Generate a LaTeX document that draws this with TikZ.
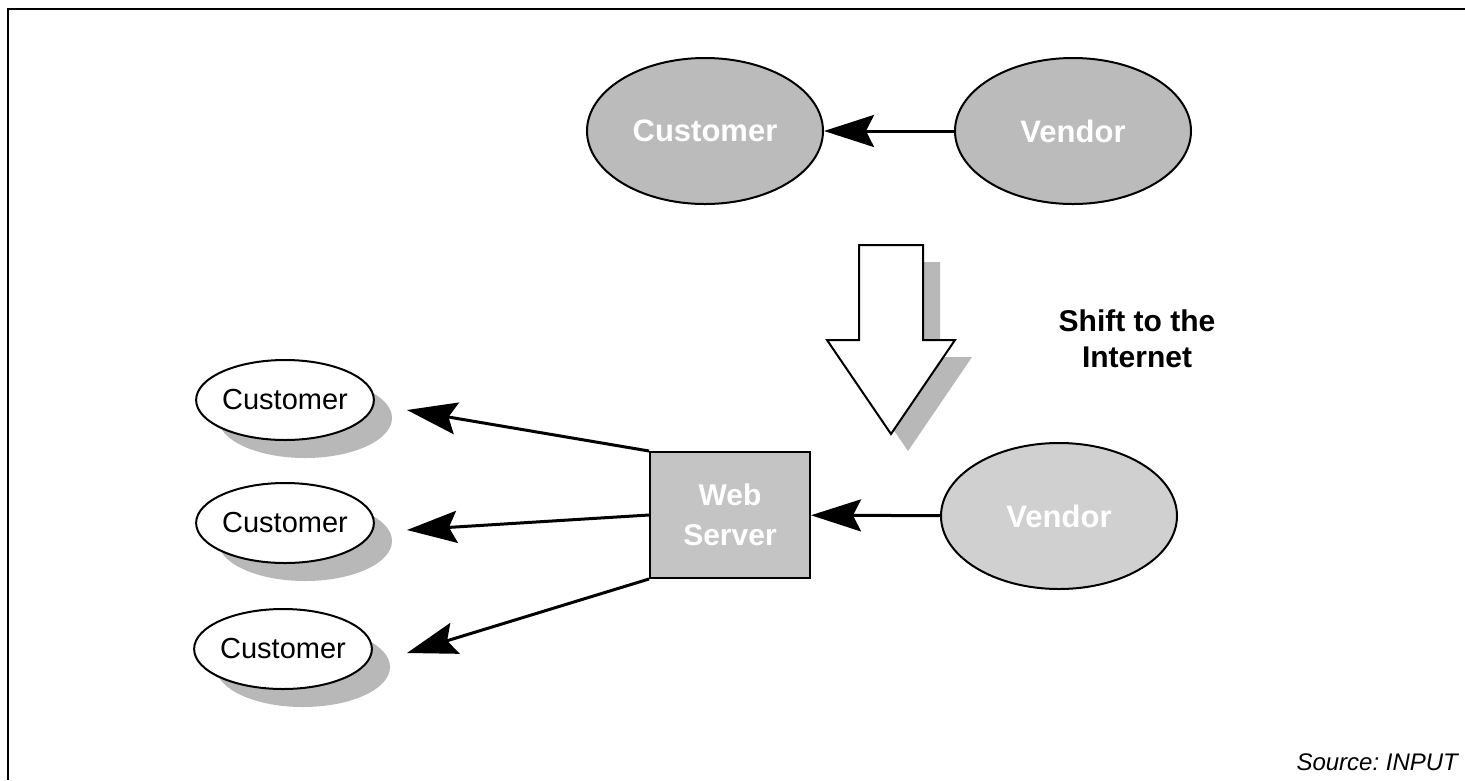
\documentclass[tikz,border=0pt]{standalone}
\usepackage{fontspec}
\setmainfont{Liberation Sans}
\usetikzlibrary{shapes.geometric,arrows.meta}
\definecolor{ellgray}{HTML}{BBBBBB}
\definecolor{lightfill}{HTML}{D0D0D0}
\definecolor{boxgray}{HTML}{C4C4C4}
\definecolor{shadowgray}{HTML}{B8B8B8}
\begin{document}
\begin{tikzpicture}[x=1pt,y=-1pt,
  bigell/.style={ellipse, draw=black, line width=2pt, fill=ellgray, minimum width=236pt, minimum height=146pt, inner sep=0pt, text=white, font=\bfseries\fontsize{31}{36}\selectfont},
  custell/.style={ellipse, draw=black, line width=2pt, fill=white, minimum width=174pt, minimum height=80pt, inner sep=0pt, font=\fontsize{29}{34}\selectfont},
  ellshadow/.style={ellipse, fill=shadowgray, minimum width=174pt, minimum height=80pt, inner sep=0pt},
  conn/.style={line width=3pt, -{Stealth[length=50pt,width=32pt,inset=8pt]}},
  blockarrow/.style={draw=black, line width=2pt, fill=white, line join=miter},
]
\useasboundingbox (0,0) rectangle (1465,780);
\fill[white] (0,0) rectangle (1465,780);
\draw[line width=2.5pt] (8,780) -- (8,9) -- (1465,9);

% top row
\node[bigell] (topcust) at (705,131) {Customer};
\node[bigell] (topvend) at (1073,131) {Vendor};
\draw[conn] (topvend) -- (topcust);

% block arrow with shadow
\begin{scope}[shift={(17,17)}]
\fill[shadowgray] (859,245) -- (923,245) -- (923,340) -- (955,340) -- (891,434) -- (827,340) -- (859,340) -- cycle;
\end{scope}
\draw[blockarrow] (859,245) -- (923,245) -- (923,340) -- (955,340) -- (891,434) -- (827,340) -- (859,340) -- cycle;

\node[font=\bfseries\fontsize{30}{36}\selectfont, align=center] (shift) at (1137,339) {Shift to the\\Internet};

% lower part
\node[bigell, fill=lightfill] (vend) at (1059,516) {Vendor};
\node[draw, line width=2pt, fill=boxgray, minimum width=160pt, minimum height=126pt, inner sep=0pt, text=white, font=\bfseries\fontsize{30}{40}\selectfont, align=center] (ws) at (730,515) {Web\\Server};
\draw[conn] (vend) -- (ws);

\node[ellshadow] (s1) at (305,418) {};
\node[custell] (c1) at (285,400) {Customer};
\node[ellshadow] (s2) at (305,541) {};
\node[custell] (c2) at (285,523) {Customer};
\node[ellshadow] (s3) at (303,667) {};
\node[custell] (c3) at (283,649) {Customer};

\coordinate (t1) at (407,410);
\coordinate (t2) at (407,530);
\coordinate (t3) at (407,653);
\draw[conn] (ws.north west) -- (t1);
\draw[conn] (ws.west) -- (t2);
\draw[conn] (ws.south west) -- (t3);

\node[anchor=base west, font=\itshape\fontsize{24}{28}\selectfont] (src) at (1293,770) {Source:\ INPUT};
\end{tikzpicture}
\end{document}
